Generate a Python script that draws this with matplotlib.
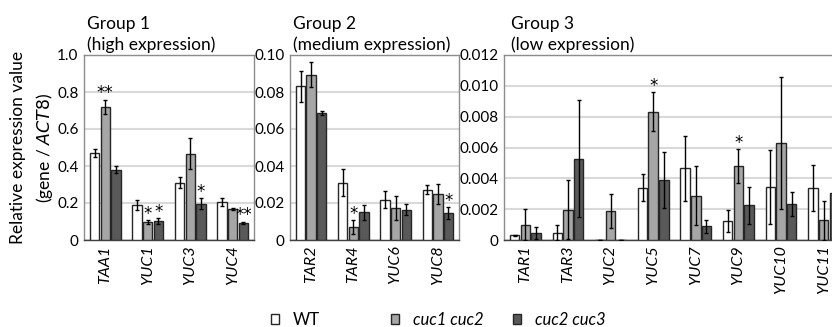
import matplotlib.pyplot as plt
from matplotlib.patches import Patch

plt.rcParams['font.family'] = ['Lato', 'DejaVu Sans']

genotypes = ['WT', 'cuc1 cuc2', 'cuc2 cuc3']
colors = ['white', '#a6a6a6', '#595959']

# Group 1 (high expression)
genes1 = ['TAA1', 'YUC1', 'YUC3', 'YUC4']
wt1 = [0.472, 0.189, 0.310, 0.205]
wt1_err = [0.022, 0.027, 0.030, 0.020]
c12_1 = [0.719, 0.096, 0.467, 0.168]
c12_1_err = [0.040, 0.011, 0.085, 0.005]
c23_1 = [0.380, 0.103, 0.195, 0.094]
c23_1_err = [0.018, 0.016, 0.030, 0.005]
sig1 = [['', '**', ''], ['', '*', '*'], ['', '', '*'], ['', '', '**']]

# Group 2 (medium expression)
genes2 = ['TAR2', 'TAR4', 'YUC6', 'YUC8']
wt2 = [0.0831, 0.0310, 0.0218, 0.0272]
wt2_err = [0.0085, 0.0072, 0.0045, 0.0025]
c12_2 = [0.0894, 0.0070, 0.0173, 0.0249]
c12_2_err = [0.0067, 0.0037, 0.0067, 0.0052]
c23_2 = [0.0687, 0.0150, 0.0164, 0.0146]
c23_2_err = [0.0010, 0.0041, 0.0030, 0.0030]
sig2 = [['', '', ''], ['', '*', ''], ['', '', ''], ['', '', '*']]

# Group 3 (low expression)
genes3 = ['TAR1', 'TAR3', 'YUC2', 'YUC5', 'YUC7', 'YUC9', 'YUC10', 'YUC11']
wt3 = [0.0003, 0.00047, 0.00002, 0.0034, 0.00466, 0.00125, 0.00343, 0.00337]
wt3_err = [0.00005, 0.0005, 0.0, 0.0009, 0.0021, 0.0007, 0.0024, 0.0015]
c12_3 = [0.0010, 0.00196, 0.0019, 0.00833, 0.00287, 0.0048, 0.00628, 0.00127]
c12_3_err = [0.0010, 0.0019, 0.0011, 0.00125, 0.0019, 0.0011, 0.0043, 0.00125]
c23_3 = [0.00047, 0.00526, 0.0, 0.0039, 0.00088, 0.00224, 0.00233, 0.00306]
c23_3_err = [0.0004, 0.0038, 0.0, 0.0018, 0.0004, 0.00123, 0.0008, 0.001]
sig3 = [['', '', ''], ['', '', ''], ['', '', ''], ['', '*', ''],
        ['', '', ''], ['', '*', ''], ['', '', ''], ['', '', '']]

W, H = 832, 327
fig = plt.figure(figsize=(W / 100, H / 100), dpi=100)

panels = [
    (genes1, [wt1, c12_1, c23_1], [wt1_err, c12_1_err, c23_1_err], sig1,
     [0, 0.2, 0.4, 0.6, 0.8, 1.0], ['0', '0.2', '0.4', '0.6', '0.8', '1.0'],
     'Group 1\n(high expression)', 84, 170),
    (genes2, [wt2, c12_2, c23_2], [wt2_err, c12_2_err, c23_2_err], sig2,
     [0, 0.02, 0.04, 0.06, 0.08, 0.10], ['0', '0.02', '0.04', '0.06', '0.08', '0.10'],
     'Group 2\n(medium expression)', 290, 169),
    (genes3, [wt3, c12_3, c23_3], [wt3_err, c12_3_err, c23_3_err], sig3,
     [0, 0.002, 0.004, 0.006, 0.008, 0.010, 0.012],
     ['0', '0.002', '0.004', '0.006', '0.008', '0.010', '0.012'],
     'Group 3\n(low expression)', 504, 341),
]

width = 0.22
step = 0.25
axes = []
for genes, vals, errs, sig, yt, ytl, title, left, wpx in panels:
    ax = fig.add_axes([left / W, 87 / H, wpx / W, 185 / H])
    axes.append(ax)
    n = len(genes)
    for k in range(3):
        xs = [i + (k - 1) * step for i in range(n)]
        ax.bar(xs, vals[k], width, color=colors[k], edgecolor='#262626',
               linewidth=1.0, zorder=3)
        ax.errorbar(xs, vals[k], yerr=errs[k], fmt='none', ecolor='black',
                    elinewidth=1.0, capsize=1.5, capthick=1.0, zorder=4)
        for i in range(n):
            if sig[i][k]:
                ax.annotate(sig[i][k], (xs[i], vals[k][i] + errs[k][i]),
                            xytext=(0, 1), textcoords='offset points',
                            ha='center', va='baseline', fontsize=12,
                            family='DejaVu Sans', zorder=5)
    ax.set_xlim(-0.5, n - 0.5)
    ax.set_ylim(yt[0], yt[-1])
    ax.set_yticks(yt)
    ax.set_yticklabels(ytl, fontsize=11)
    ax.set_xticks(range(n))
    ax.set_xticklabels(genes, rotation=90, fontsize=11.5, fontstyle='italic')
    ax.tick_params(length=0, pad=4)
    ax.yaxis.grid(True, color='#d9d9d9', linewidth=1.5, zorder=0)
    ax.set_axisbelow(True)
    for s in ax.spines.values():
        s.set_color('#8c8c8c')
        s.set_linewidth(1.0)
    ax.spines['bottom'].set_color('#404040')
    ax.text(0.02, 1.01, title, transform=ax.transAxes, fontsize=12.5,
            ha='left', va='bottom', linespacing=1.35)

axes[0].set_ylabel('Relative expression value\n(gene / $\\mathit{ACT8}$)',
                   fontsize=12.5, labelpad=1.5, linespacing=1.5)

# legend entries placed one by one along the bottom
legend_x = [271, 391, 513]
for label, c, lx in zip(genotypes, colors, legend_x):
    h = Patch(facecolor=c, edgecolor='#262626', linewidth=1.0)
    leg = fig.legend([h], [label], loc='center left', bbox_to_anchor=(lx / W, 1 - 320 / H),
                     frameon=False, fontsize=12, handlelength=0.5, handleheight=0.5,
                     handletextpad=0.8, borderpad=0, borderaxespad=0)
    if label != 'WT':
        leg.get_texts()[0].set_fontstyle('italic')

fig.savefig('out.png', dpi=100)
